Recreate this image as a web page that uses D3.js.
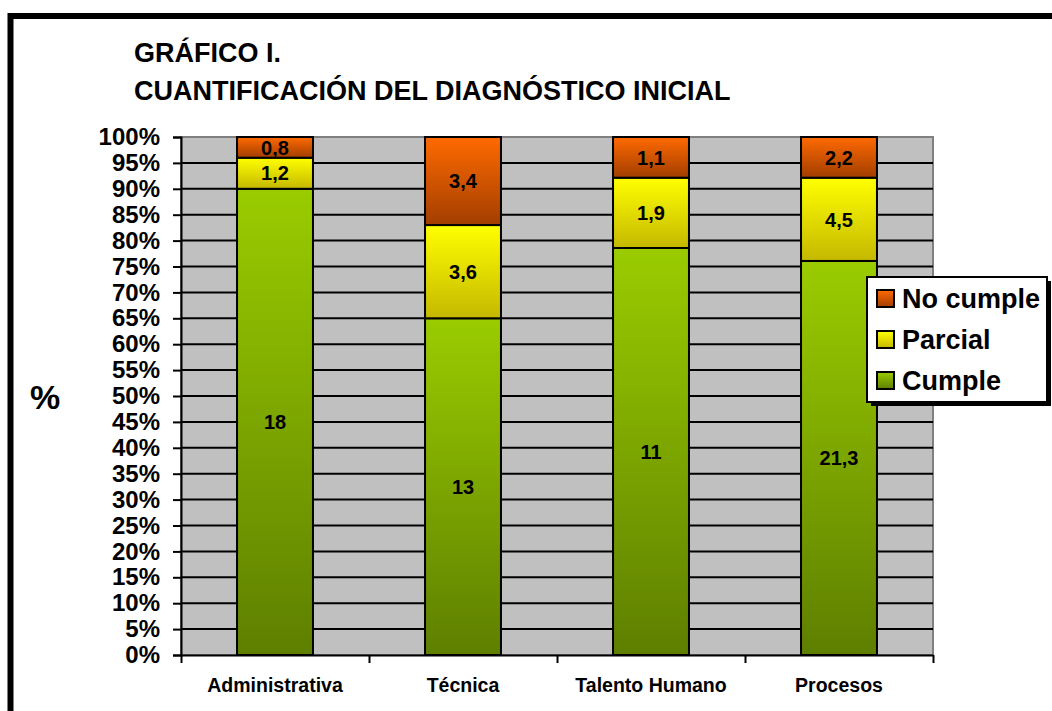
<!DOCTYPE html>
<html>
<head>
<meta charset="utf-8">
<script src="https://cdn.jsdelivr.net/npm/d3@7"></script>
<style>
  html, body { margin: 0; padding: 0; background: #fff; overflow: hidden; }
  svg { display: block; font-family: "Liberation Sans", Arial, sans-serif; font-weight: bold; }
</style>
</head>
<body>
<svg id="chart" width="1052" height="711"></svg>
<script>
const categories = ["Administrativa", "Técnica", "Talento Humano", "Procesos"];
const cumple = [18, 13, 11, 21.3];
const parcial = [1.2, 3.6, 1.9, 4.5];
const noCumple = [0.8, 3.4, 1.1, 2.2];
const seriesNames = ["Cumple", "Parcial", "No cumple"];
const yTicks = [0, 5, 10, 15, 20, 25, 30, 35, 40, 45, 50, 55, 60, 65, 70, 75, 80, 85, 90, 95, 100];
const titleLines = ["GRÁFICO I.", "CUANTIFICACIÓN DEL DIAGNÓSTICO INICIAL"];

const svg = d3.select("#chart");
const W = 1052, H = 711;
const plot = { left: 181, right: 933, top: 137, bottom: 655 };

// gradients
const defs = svg.append("defs");
const grads = {
  "Cumple": ["#9acc00", "#5e7f00"],
  "Parcial": ["#ffff00", "#c4b800"],
  "No cumple": ["#ff6a00", "#a23e00"]
};
const gid = n => "g_" + n.replace(/\s/g, "");
Object.entries(grads).forEach(([k, c]) => {
  const g = defs.append("linearGradient").attr("id", gid(k))
    .attr("x1", 0).attr("y1", 0).attr("x2", 0).attr("y2", 1);
  g.append("stop").attr("offset", "0%").attr("stop-color", c[0]);
  g.append("stop").attr("offset", "100%").attr("stop-color", c[1]);
});

// outer frame
svg.append("rect").attr("x", 10.5).attr("y", 16).attr("width", W + 20).attr("height", H + 20)
  .attr("fill", "#fff").attr("stroke", "#000").attr("stroke-width", 6);

// title
svg.append("g").selectAll("text").data(titleLines).join("text")
  .attr("x", 134).attr("y", (d, i) => 62 + i * 37.5)
  .attr("font-size", 27).attr("fill", "#000").text(d => d);

// data
const rows = categories.map((c, i) => ({ cat: c, "Cumple": cumple[i], "Parcial": parcial[i], "No cumple": noCumple[i] }));
const stack = d3.stack().keys(seriesNames).offset(d3.stackOffsetExpand);
const stacked = stack(rows);

const x = d3.scaleBand().domain(categories).range([plot.left, plot.right])
  .paddingInner(0.596).paddingOuter(0.298);
const xb = d3.scaleLinear().domain([0, categories.length]).range([plot.left, plot.right]);
const y = d3.scaleLinear().domain([0, 1]).range([plot.bottom, plot.top]);

// plot area
svg.append("rect").attr("x", plot.left).attr("y", plot.top)
  .attr("width", plot.right - plot.left).attr("height", plot.bottom - plot.top)
  .attr("fill", "#c0c0c0").attr("stroke", "#808080").attr("stroke-width", 2);

// gridlines
svg.append("g").selectAll("line").data(yTicks.filter(t => t > 0 && t < 100)).join("line")
  .attr("x1", plot.left).attr("x2", plot.right)
  .attr("y1", d => y(d / 100)).attr("y2", d => y(d / 100))
  .attr("stroke", "#000").attr("stroke-width", 2);

// bars
const fmt = v => String(v).replace(".", ",");
const layers = svg.append("g").selectAll("g").data(stacked).join("g");
layers.selectAll("rect").data(d => d.map(p => ({ p, key: d.key }))).join("rect")
  .attr("x", d => x(d.p.data.cat))
  .attr("width", x.bandwidth())
  .attr("y", d => y(d.p[1]))
  .attr("height", d => y(d.p[0]) - y(d.p[1]))
  .attr("fill", d => `url(#${gid(d.key)})`)
  .attr("stroke", "#000").attr("stroke-width", 2);

layers.selectAll("text").data(d => d.map(p => ({ p, key: d.key }))).join("text")
  .attr("x", d => x(d.p.data.cat) + x.bandwidth() / 2)
  .attr("y", d => (y(d.p[0]) + y(d.p[1])) / 2)
  .attr("dy", "0.36em")
  .attr("text-anchor", "middle").attr("font-size", 20).attr("fill", "#000")
  .text(d => fmt(d.p.data[d.key]));

// y axis
const yAxis = svg.append("g").attr("transform", `translate(${plot.left},0)`)
  .call(d3.axisLeft(y).tickValues(yTicks.map(t => t / 100)).tickFormat((d, i) => yTicks[i] + "%")
    .tickSize(8).tickPadding(13));
yAxis.select(".domain").attr("stroke", "#000").attr("stroke-width", 2);
yAxis.selectAll(".tick line").attr("stroke", "#000").attr("stroke-width", 2);
yAxis.selectAll(".tick text").attr("font-size", 24).attr("fill", "#000")
  .attr("font-family", "'Liberation Sans', Arial, sans-serif").attr("font-weight", "bold");

// x axis
const xAxis = svg.append("g").attr("transform", `translate(0,${plot.bottom})`)
  .call(d3.axisBottom(xb).tickValues(d3.range(categories.length + 1)).tickFormat("").tickSize(8).tickSizeOuter(0));
xAxis.select(".domain").attr("stroke", "#000").attr("stroke-width", 2);
xAxis.selectAll(".tick line").attr("stroke", "#000").attr("stroke-width", 2);
const xLab = svg.append("g").attr("transform", `translate(0,${plot.bottom})`)
  .call(d3.axisBottom(x).tickSize(0).tickPadding(23));
xLab.select(".domain").remove();
xLab.selectAll(".tick text").attr("font-size", 19.5).attr("fill", "#000")
  .attr("font-family", "'Liberation Sans', Arial, sans-serif").attr("font-weight", "bold");

// y axis title
svg.append("text").attr("x", 45).attr("y", 409).attr("text-anchor", "middle")
  .attr("font-size", 34).attr("fill", "#000").text("%");

// legend
const leg = { x: 867, y: 277, w: 180, h: 125 };
const lg = svg.append("g");
lg.append("rect").attr("x", leg.x + 4).attr("y", leg.y + 4).attr("width", leg.w).attr("height", leg.h).attr("fill", "#000");
lg.append("rect").attr("x", leg.x).attr("y", leg.y).attr("width", leg.w).attr("height", leg.h)
  .attr("fill", "#fff").attr("stroke", "#000").attr("stroke-width", 2);
const legendOrder = seriesNames.slice().reverse();
const li = lg.selectAll("g.item").data(legendOrder).join("g").attr("class", "item")
  .attr("transform", (d, i) => `translate(${leg.x + 10},${leg.y + 13 + i * 41})`);
li.append("rect").attr("x", 0).attr("y", 0).attr("width", 17).attr("height", 17)
  .attr("fill", d => `url(#${gid(d)})`).attr("stroke", "#000").attr("stroke-width", 2);
li.append("text").attr("x", 25).attr("y", 8.5).attr("dy", "0.36em")
  .attr("font-size", 27).attr("fill", "#000").text(d => d);
</script>
</body>
</html>
